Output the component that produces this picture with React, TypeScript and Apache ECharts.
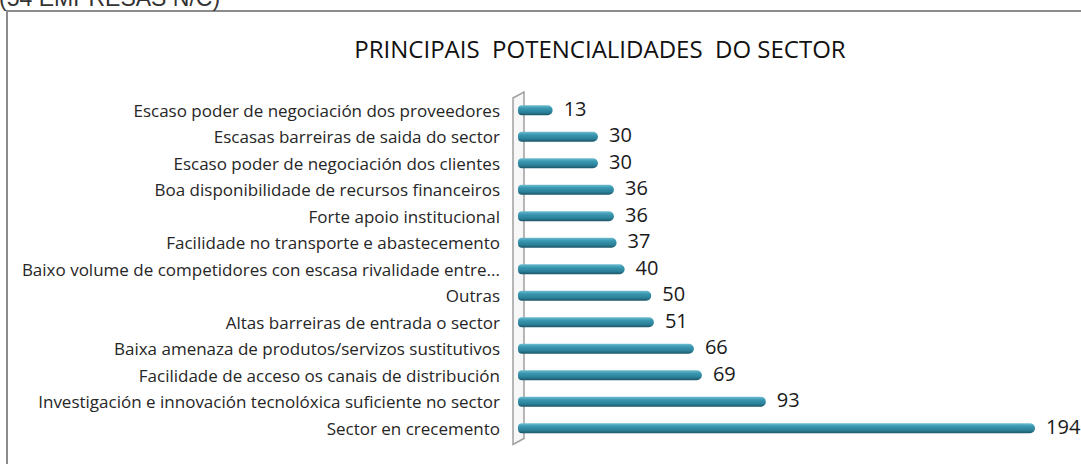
import React, { useEffect, useRef } from "react";
import * as echarts from "echarts";

const categories = [
  "Sector en crecemento",
  "Investigación e innovación tecnolóxica suficiente no sector",
  "Facilidade de acceso os canais de distribución",
  "Baixa amenaza de produtos/servizos sustitutivos",
  "Altas barreiras de entrada o sector",
  "Outras",
  "Baixo volume de competidores con escasa rivalidade entre...",
  "Facilidade no transporte e abastecemento",
  "Forte apoio institucional",
  "Boa disponibilidade de recursos financeiros",
  "Escaso poder de negociación dos clientes",
  "Escasas barreiras de saida do sector",
  "Escaso poder de negociación dos proveedores",
];
const values = [194, 93, 69, 66, 51, 50, 40, 37, 36, 36, 30, 30, 13];
const titleText = "PRINCIPAIS  POTENCIALIDADES  DO SECTOR";
const noteText = "(54 EMPRESAS N/C)";

const GRID_LEFT = 518;
const GRID_TOP = 97;
const GRID_H = 344.5;
const X_MAX = 200;
const GRID_W = 533;

export default function App() {
  const ref = useRef<HTMLDivElement>(null);
  useEffect(() => {
    if (!ref.current) return;
    const chart = echarts.init(ref.current, null, { renderer: "svg" });
    chart.setOption({
      animation: false,
      backgroundColor: "#ffffff",
      title: {
        text: titleText,
        left: 595,
        top: 31,
        textAlign: "center",
        textStyle: {
          fontFamily: "Open Sans",
          fontSize: 24,
          fontWeight: "normal",
          color: "#111111",
        },
      },
      graphic: [
        {
          type: "rect",
          z: 0,
          shape: { x: 7, y: 11, width: 1100, height: 500 },
          style: { fill: "none", stroke: "#8c8c8c", lineWidth: 2 },
        },
        {
          type: "text",
          z: 0,
          style: {
            text: noteText,
            x: -1,
            y: 9,
            verticalAlign: "bottom",
            fontFamily: "Liberation Sans",
            fontSize: 23,
            fill: "#333333",
          },
        },
        {
          type: "polygon",
          z: 0,
          shape: {
            points: [
              [GRID_LEFT - 5, GRID_TOP + 1],
              [GRID_LEFT + 6, GRID_TOP - 5],
              [GRID_LEFT + 6, GRID_TOP + GRID_H - 3],
              [GRID_LEFT - 5, GRID_TOP + GRID_H + 3],
            ],
          },
          style: { fill: "#f7f7f7", stroke: "#a0a0a0", lineWidth: 1.5 },
        },
      ],
      grid: {
        left: GRID_LEFT,
        top: GRID_TOP,
        width: GRID_W,
        height: GRID_H,
        containLabel: false,
      },
      xAxis: {
        type: "value",
        min: 0,
        max: X_MAX,
        show: false,
        splitLine: { show: false },
      },
      yAxis: {
        type: "category",
        data: categories,
        axisLine: { show: false },
        axisTick: { show: false },
        axisLabel: {
          margin: 18,
          fontFamily: "Open Sans",
          fontSize: 17,
          color: "#262626",
        },
      },
      series: [
        {
          type: "bar",
          z: 5,
          data: values,
          barWidth: 10,
          itemStyle: {
            borderRadius: [4, 5, 5, 4],
            color: new echarts.graphic.LinearGradient(0, 0, 0, 1, [
              { offset: 0, color: "#6fbdd1" },
              { offset: 0.3, color: "#3a98b1" },
              { offset: 0.7, color: "#2b8199" },
              { offset: 1, color: "#1b5566" },
            ]),
          },
          label: {
            show: true,
            position: "right",
            distance: 11,
            fontFamily: "Open Sans",
            fontSize: 20,
            color: "#1a1a1a",
            offset: [0, -2],
          },
        },
      ],
    });
    return () => chart.dispose();
  }, []);
  return (
    <div
      ref={ref}
      style={{ position: "fixed", left: 0, top: 0, width: 1081, height: 464 }}
    />
  );
}
